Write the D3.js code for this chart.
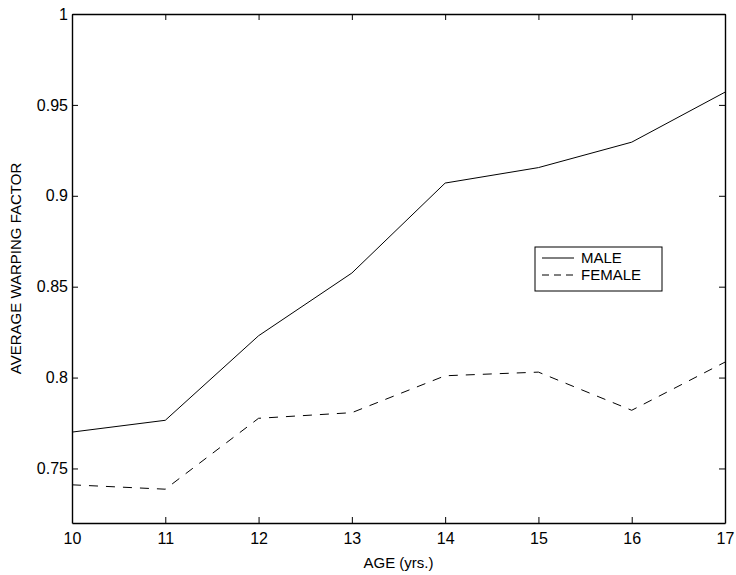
<!DOCTYPE html>
<html>
<head>
<meta charset="utf-8">
<script src="https://cdn.jsdelivr.net/npm/d3@7"></script>
<style>
  body { margin: 0; background: #fff; }
  svg { display: block; font-family: "Liberation Sans", Arial, sans-serif; }
</style>
</head>
<body>
<svg id="chart"></svg>
<script>
const ages = [10, 11, 12, 13, 14, 15, 16, 17];
const male = [0.770, 0.7765, 0.823, 0.8575, 0.907, 0.9155, 0.9295, 0.957];
const female = [0.741, 0.7386, 0.7776, 0.7807, 0.801, 0.803, 0.782, 0.8085];
const yTicks = [0.75, 0.8, 0.85, 0.9, 0.95, 1];
const seriesNames = ['MALE', 'FEMALE'];

const width = 736;
const height = 575;
const margin = { top: 14, right: 11, bottom: 52, left: 72 };

const svg = d3.select('#chart').attr('width', width).attr('height', height);

const xScale = d3
  .scaleLinear()
  .domain([10, 17])
  .range([margin.left, width - margin.right]);
const yScale = d3
  .scaleLinear()
  .domain([0.72, 1])
  .range([height - margin.bottom, margin.top]);

const tickLen = 6;

// Axes (box with inward ticks on all four sides)
const xAxisBottom = svg
  .append('g')
  .attr('transform', `translate(0,${yScale(0.72)})`)
  .call(d3.axisBottom(xScale).tickValues(ages).tickFormat(d3.format('d')).tickSizeInner(-tickLen).tickSizeOuter(0));
xAxisBottom.selectAll('text').attr('y', 10).attr('dy', '0.71em');

const xAxisTop = svg
  .append('g')
  .attr('transform', `translate(0,${yScale(1)})`)
  .call(d3.axisTop(xScale).tickValues(ages).tickFormat('').tickSizeInner(-tickLen).tickSizeOuter(0));

const yAxisLeft = svg
  .append('g')
  .attr('transform', `translate(${xScale(10)},0)`)
  .call(d3.axisLeft(yScale).tickValues(yTicks).tickFormat((d) => String(d)).tickSizeInner(-tickLen).tickSizeOuter(0));
yAxisLeft.selectAll('text').attr('x', -4);

const yAxisRight = svg
  .append('g')
  .attr('transform', `translate(${xScale(17)},0)`)
  .call(d3.axisRight(yScale).tickValues(yTicks).tickFormat('').tickSizeInner(-tickLen).tickSizeOuter(0));

[xAxisBottom, xAxisTop, yAxisLeft, yAxisRight].forEach((g) => {
  g.select('.domain').attr('stroke', '#000').attr('stroke-width', 1.4);
  g.selectAll('.tick line').attr('stroke', '#000').attr('stroke-width', 1);
  g.selectAll('text')
    .attr('font-size', 16)
    .attr('font-family', '"Liberation Sans", Arial, sans-serif')
    .attr('fill', '#000');
});

// Axis titles
svg
  .append('text')
  .attr('x', (xScale(10) + xScale(17)) / 2)
  .attr('y', 568)
  .attr('text-anchor', 'middle')
  .attr('font-size', 15)
  .text('AGE (yrs.)');

svg
  .append('text')
  .attr('transform', `translate(21,${(yScale(0.72) + yScale(1)) / 2}) rotate(-90)`)
  .attr('text-anchor', 'middle')
  .attr('font-size', 15)
  .text('AVERAGE WARPING FACTOR');

// Lines
const line = d3
  .line()
  .x((d, i) => xScale(ages[i]))
  .y((d) => yScale(d));

svg
  .append('path')
  .datum(male)
  .attr('fill', 'none')
  .attr('stroke', '#000')
  .attr('stroke-width', 1)
  .attr('d', line);

svg
  .append('path')
  .datum(female)
  .attr('fill', 'none')
  .attr('stroke', '#000')
  .attr('stroke-width', 1)
  .attr('stroke-dasharray', '9,8')
  .attr('d', line);

// Legend
const legend = svg.append('g').attr('transform', 'translate(535,247)');
legend
  .append('rect')
  .attr('width', 127)
  .attr('height', 44)
  .attr('fill', '#fff')
  .attr('stroke', '#000')
  .attr('stroke-width', 1);

legend
  .selectAll('line')
  .data(seriesNames)
  .join('line')
  .attr('x1', 7)
  .attr('x2', 39)
  .attr('y1', (d, i) => 11 + i * 17)
  .attr('y2', (d, i) => 11 + i * 17)
  .attr('stroke', '#000')
  .attr('stroke-width', 1)
  .attr('stroke-dasharray', (d, i) => (i ? '7,5' : null));

legend
  .selectAll('text')
  .data(seriesNames)
  .join('text')
  .attr('x', 46)
  .attr('y', (d, i) => 16 + i * 17)
  .attr('font-size', 15)
  .text((d) => d);
</script>
</body>
</html>
